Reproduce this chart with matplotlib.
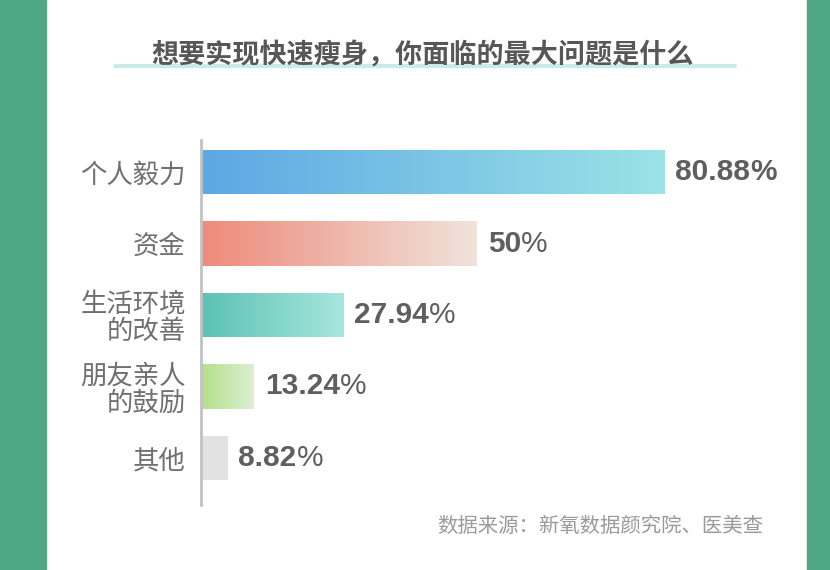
import matplotlib
matplotlib.use("Agg")
import matplotlib.pyplot as plt
import numpy as np
from matplotlib.colors import LinearSegmentedColormap

plt.rcParams['font.family'] = ['Noto Sans CJK SC', 'DejaVu Sans']

# ---- data ----
categories = ["个人毅力", "资金", "生活环境\n的改善", "朋友亲人\n的鼓励", "其他"]
values = [80.88, 50, 27.94, 13.24, 8.82]
value_texts = ["80.88", "50", "27.94", "13.24", "8.82"]
title = "想要实现快速瘦身，你面临的最大问题是什么"
source = "数据来源：新氧数据颜究院、医美查"

# ---- styles ----
grad_colors = [("#5da7e4", "#9be3e6"),
               ("#ee8a7b", "#f0e3db"),
               ("#5cc2b3", "#a7e6de"),
               ("#b3df8a", "#dcefd2"),
               ("#e2e2e2", "#e2e2e2")]
green = "#4ea886"
text_grey = "#707070"

fig = plt.figure(figsize=(8.3, 5.7), dpi=100)
fig.patch.set_facecolor("white")

# side borders
fig.add_artist(plt.Rectangle((0, 0), 46 / 830, 1, transform=fig.transFigure,
                             color=green, zorder=0))
fig.add_artist(plt.Rectangle((807 / 830, 0), 23 / 830, 1, transform=fig.transFigure,
                             color=green, zorder=0))

# title with underline
fig.add_artist(plt.Line2D([115 / 830, 735 / 830], [1 - 66 / 570, 1 - 66 / 570],
                          transform=fig.transFigure, color="#c8ede8", lw=3,
                          solid_capstyle="round", zorder=1))
fig.text(423 / 830, 1 - 55 / 570, title, ha="center", va="center",
         fontsize=19.5, fontweight="bold", color="#575757", zorder=2)

# footer
fig.text(763 / 830, 1 - 527 / 570, source, ha="right", va="center",
         fontsize=14.7, color="#9a9a9a")

ax = fig.add_axes([201 / 830, 65 / 570, 579 / 830, 365 / 570])
ax.set_facecolor("none")
y = np.arange(len(categories))
bars = ax.barh(y, values, height=0.62, color="none", edgecolor="none")
ax.set_xlim(4.5, 100)
ax.set_ylim(4.66, -0.45)

for b, (c0, c1) in zip(bars, grad_colors):
    cmap = LinearSegmentedColormap.from_list("g", [c0, c1])
    x0, w = b.get_x(), b.get_width()
    y0, h = b.get_y(), b.get_height()
    grad = np.linspace(0, 1, 256).reshape(1, -1)
    im = ax.imshow(grad, cmap=cmap, aspect="auto",
                   extent=[ax.get_xlim()[0], x0 + w, y0 + h, y0],
                   interpolation="bicubic", zorder=2)
    im.set_clip_path(b)
ax.set_xlim(4.5, 100)
ax.set_ylim(4.66, -0.45)

for yi, v, t in zip(y, values, value_texts):
    t1 = ax.annotate(t, xy=(v, yi), xytext=(8, 0), textcoords="offset points",
                     ha="left", va="center", fontsize=21.5, fontweight="bold",
                     color="#5f5f5f", family=["Liberation Sans", "DejaVu Sans"])
    ax.annotate("%", xy=(1, 0), xycoords=t1, ha="left", va="bottom",
                fontsize=21.5, color="#5f5f5f",
                fontweight="bold" if yi == 0 else "normal",
                family=["Liberation Sans", "DejaVu Sans"])

ax.set_yticks(y)
ax.set_yticklabels(categories, fontsize=19, color=text_grey, linespacing=1.0)
ax.tick_params(axis="y", length=0, pad=11)
ax.set_xticks([])
for s in ["top", "right", "bottom"]:
    ax.spines[s].set_visible(False)
ax.spines["left"].set_color("#c2c2c2")
ax.spines["left"].set_linewidth(2)

fig.savefig("out.png", dpi=100, facecolor="white")
